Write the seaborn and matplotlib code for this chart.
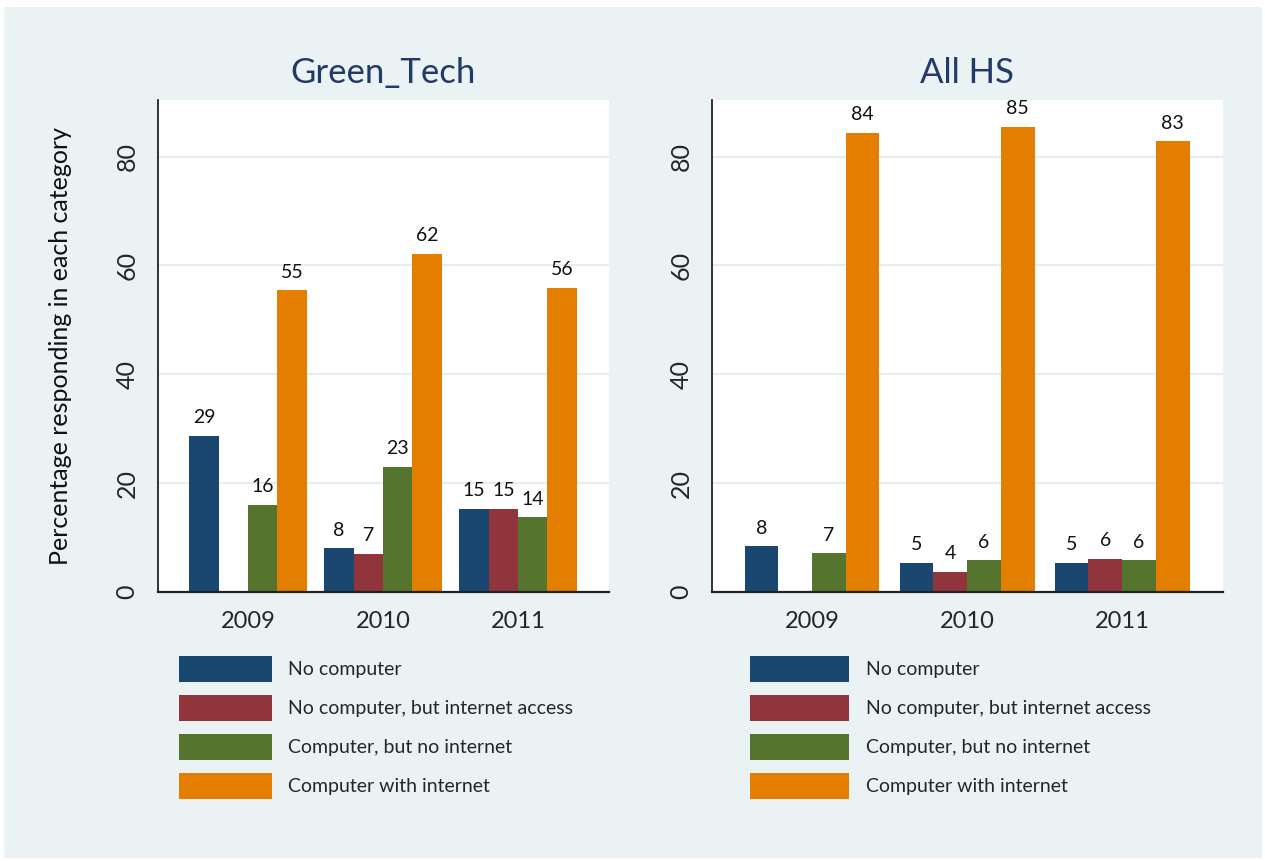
import numpy as np
import pandas as pd
import matplotlib
matplotlib.use("Agg")
import matplotlib.pyplot as plt
from matplotlib.patches import Rectangle
import seaborn as sns

# values (percent), one list per category, years in order
years = ["2009", "2010", "2011"]
categories = ["No computer", "No computer, but internet access",
              "Computer, but no internet", "Computer with internet"]
colors = ["#1A476F", "#90353B", "#55752F", "#E37E00"]

green_tech = [
    [28.7, 8.0, 15.3],
    [np.nan, 7.0, 15.3],
    [16.0, 23.0, 13.7],
    [55.4, 62.1, 55.9],
]
all_hs = [
    [8.4, 5.3, 5.4],
    [np.nan, 3.7, 6.1],
    [7.1, 5.8, 5.8],
    [84.4, 85.4, 82.8],
]


def to_long(values):
    rows = []
    for cat, vals in zip(categories, values):
        for yr, v in zip(years, vals):
            rows.append({"year": yr, "category": cat, "pct": v})
    return pd.DataFrame(rows)


sns.set_style("white")
plt.rcParams["font.family"] = ["Lato", "DejaVu Sans"]

BG = "#EAF2F3"
W, H = 1265, 861
fig = plt.figure(figsize=(W / 100, H / 100), dpi=100, facecolor="white")
fig.patches.append(Rectangle((4 / W, 3 / H), 1258 / W, 851 / H,
                             transform=fig.transFigure, facecolor=BG,
                             edgecolor="none", zorder=-10))

panels = [
    ("Green_Tech", green_tech, [158, 100, 609, 592], (-0.667, 2.674), 179, 4.8, 0.82, True),
    ("All HS", all_hs, [712, 100, 1223, 592], (-0.645, 2.65), 750, 5.1, 0.87, False),
]

for title, values, (x0, y0, x1, y1), xlim, leg_x, hlen, tpad, show_ylabel in panels:
    ax = fig.add_axes([x0 / W, 1 - y1 / H, (x1 - x0) / W, (y1 - y0) / H])
    ax.set_facecolor("white")
    df = to_long(values)
    sns.barplot(data=df, x="year", y="pct", hue="category", order=years,
                hue_order=categories, palette=colors, width=0.87,
                linewidth=0, saturation=1, ax=ax)

    for c in ax.containers:
        labels = ["" if np.isnan(v) else f"{v:.0f}" for v in c.datavalues]
        ax.bar_label(c, labels=labels, padding=7, fontsize=14, color="#111111")

    ax.set_ylim(0, 90.4)
    ax.set_xlim(*xlim)
    ax.set_yticks([0, 20, 40, 60, 80])
    ax.yaxis.grid(True, color="#E4EEF0", linewidth=1.6)
    ax.set_axisbelow(True)
    ax.tick_params(axis="y", length=8, width=1, color="#333333", pad=6,
                   labelsize=18, labelrotation=90)
    for lab in ax.get_yticklabels():
        lab.set_va("center")
    ax.tick_params(axis="x", length=0, pad=14, labelsize=17)

    for s in ["top", "right"]:
        ax.spines[s].set_visible(False)
    ax.spines["left"].set_color("#111111")
    ax.spines["left"].set_linewidth(1.2)
    ax.spines["bottom"].set_color("#222222")
    ax.spines["bottom"].set_linewidth(1.6)

    ax.set_xlabel("")
    if show_ylabel:
        ax.set_ylabel("Percentage responding in each category", fontsize=18,
                      color="#111111")
        ax.yaxis.set_label_coords(-0.19, 0.5)
    else:
        ax.set_ylabel("")
    ax.set_title(title, fontsize=25, color="#233A68", pad=12)

    sns.move_legend(ax, "upper left", bbox_to_anchor=(leg_x / W, 1 - 656 / H),
                    bbox_transform=fig.transFigure, title=None, frameon=False,
                    fontsize=14, handlelength=hlen, handleheight=1.68,
                    handletextpad=tpad, labelspacing=0.67, borderpad=0,
                    borderaxespad=0)

fig.savefig("out.png", dpi=100, facecolor="white")
